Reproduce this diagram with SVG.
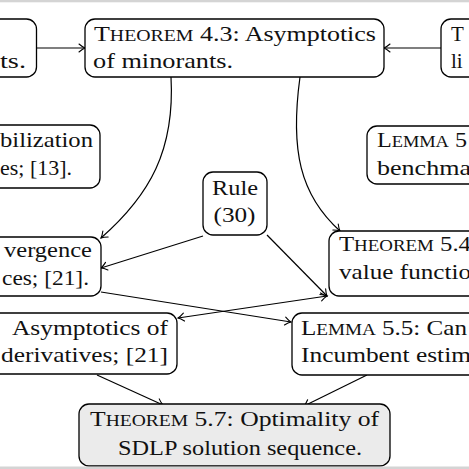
<svg xmlns="http://www.w3.org/2000/svg" width="469" height="469" viewBox="0 0 469 469">
<defs>
<style>
.box{fill:#fff;stroke:#000;stroke-width:1.3}
.gbox{fill:#ebebeb;stroke:#000;stroke-width:1.3}
.t{font-family:"Liberation Serif","Times New Roman",serif;font-size:21px;fill:#111}
.sc{font-size:16px}
.c{fill:none;stroke:#000;stroke-width:1.2}
</style>
<marker id="arr" viewBox="-8 -5 10 10" refX="0" refY="0" markerWidth="10" markerHeight="10" markerUnits="userSpaceOnUse" orient="auto-start-reverse">
<path d="M-6,-4 Q-2.5,-1 0,0 Q-2.5,1 -6,4" fill="none" stroke="#000" stroke-width="1.1" stroke-linecap="round"/>
</marker>
</defs>
<rect x="0" y="0" width="469" height="469" fill="#fff"/>

<g id="connectors">
<path class="c" d="M36.5,48 L85,48" marker-end="url(#arr)"/>
<path class="c" d="M441,48 L384,48" marker-end="url(#arr)"/>
<path class="c" d="M171,77 C175,150 150,195 101,238" marker-end="url(#arr)"/>
<path class="c" d="M300,77 C290,150 300,195 340,231" marker-end="url(#arr)"/>
<path class="c" d="M203,236 L101,268" marker-end="url(#arr)"/>
<path class="c" d="M267,235 L327,296" marker-end="url(#arr)"/>
<path class="c" d="M101,292 L291,322" marker-end="url(#arr)"/>
<path class="c" d="M327,296 L178,318" marker-start="url(#arr)" marker-end="url(#arr)"/>
<path class="c" d="M97,375 L163,405" marker-end="url(#arr)"/>
<path class="c" d="M367,375 L304,406" marker-end="url(#arr)"/>
</g>

<g id="n1">
<rect class="box" x="-20" y="19" width="56.5" height="58" rx="10"/>
<text class="t" x="26" y="68" text-anchor="end" textLength="26" lengthAdjust="spacingAndGlyphs">ts.</text>
</g>

<g id="t43">
<rect class="box" x="85" y="19" width="299" height="58" rx="10"/>
<text class="t" x="94" y="41" textLength="282" lengthAdjust="spacingAndGlyphs">T<tspan class="sc">HEOREM</tspan> 4.3: Asymptotics</text>
<text class="t" x="93" y="68" textLength="140" lengthAdjust="spacingAndGlyphs">of minorants.</text>
</g>

<g id="ttr">
<rect class="box" x="441" y="19" width="60" height="58" rx="10"/>
<text class="t" x="451" y="41">T</text>
<text class="t" x="451" y="68">li</text>
</g>

<g id="bil">
<rect class="box" x="-20" y="125" width="120" height="63" rx="10"/>
<text class="t" x="93" y="147" text-anchor="end" textLength="93" lengthAdjust="spacingAndGlyphs">bilization</text>
<text class="t" x="72" y="175" text-anchor="end" textLength="72" lengthAdjust="spacingAndGlyphs">es; [13].</text>
</g>

<g id="lem5">
<rect class="box" x="367" y="126" width="120" height="58" rx="10"/>
<text class="t" x="377" y="147" textLength="90" lengthAdjust="spacingAndGlyphs">L<tspan class="sc">EMMA</tspan> 5</text>
<text class="t" x="377" y="175" textLength="94" lengthAdjust="spacingAndGlyphs">benchma</text>
</g>

<g id="rule">
<rect class="box" x="203" y="172" width="64" height="63" rx="10"/>
<text class="t" x="235" y="195" text-anchor="middle" textLength="46" lengthAdjust="spacingAndGlyphs">Rule</text>
<text class="t" x="234.5" y="222" text-anchor="middle" textLength="42" lengthAdjust="spacingAndGlyphs">(30)</text>
</g>

<g id="verg">
<rect class="box" x="-20" y="237" width="121" height="59" rx="10"/>
<text class="t" x="92" y="257" text-anchor="end" textLength="88" lengthAdjust="spacingAndGlyphs">vergence</text>
<text class="t" x="89" y="285" text-anchor="end" textLength="87" lengthAdjust="spacingAndGlyphs">ces; [21].</text>
</g>

<g id="t54">
<rect class="box" x="329" y="231" width="160" height="65" rx="10"/>
<text class="t" x="339" y="251" textLength="132" lengthAdjust="spacingAndGlyphs">T<tspan class="sc">HEOREM</tspan> 5.4</text>
<text class="t" x="339" y="279" textLength="132" lengthAdjust="spacingAndGlyphs">value functio</text>
</g>

<g id="asym">
<rect class="box" x="-20" y="313" width="197" height="61" rx="10"/>
<text class="t" x="168" y="335" text-anchor="end" textLength="156" lengthAdjust="spacingAndGlyphs">Asymptotics of</text>
<text class="t" x="168" y="362" text-anchor="end" textLength="167" lengthAdjust="spacingAndGlyphs">derivatives; [21]</text>
</g>

<g id="l55">
<rect class="box" x="292" y="313" width="200" height="62" rx="10"/>
<text class="t" x="301" y="335" textLength="166" lengthAdjust="spacingAndGlyphs">L<tspan class="sc">EMMA</tspan> 5.5: Can</text>
<text class="t" x="301" y="362" textLength="170" lengthAdjust="spacingAndGlyphs">Incumbent estim</text>
</g>

<g id="t57">
<rect class="gbox" x="79" y="404" width="311" height="62" rx="10"/>
<text class="t" x="90" y="426" textLength="289" lengthAdjust="spacingAndGlyphs">T<tspan class="sc">HEOREM</tspan> 5.7: Optimality of</text>
<text class="t" x="118" y="455" textLength="244" lengthAdjust="spacingAndGlyphs">SDLP solution sequence.</text>
</g>

<rect x="0" y="0" width="469" height="2.3" fill="#d4d4d4"/>
<rect x="0" y="466.5" width="469" height="2.5" fill="#d4d4d4"/>
</svg>
